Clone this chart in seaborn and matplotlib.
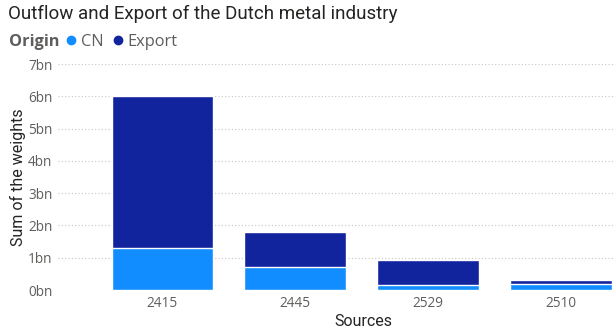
import matplotlib
matplotlib.use("Agg")
import matplotlib.pyplot as plt
from matplotlib.lines import Line2D
import seaborn as sns
import pandas as pd

# Weights per source, in billions
sources = ["2415", "2445", "2529", "2510"]
cn_weights = [1.31, 0.71, 0.16, 0.20]
export_weights = [4.69, 1.10, 0.78, 0.10]
y_ticks = [0, 1, 2, 3, 4, 5, 6, 7]

cn_color = "#118DFF"
export_color = "#12239E"
tick_color = "#605E5C"
text_color = "#252423"
heading_font = ["Roboto", "DejaVu Sans"]

sns.set_theme(style="white")
plt.rcParams["font.family"] = ["Open Sans", "DejaVu Sans"]

df = pd.DataFrame({
    "Sources": sources,
    "CN": cn_weights,
    "Export": export_weights,
})
df["Total"] = df["CN"] + df["Export"]

W, H = 614, 331
fig = plt.figure(figsize=(W / 100, H / 100), dpi=100)
ax = fig.add_axes([58 / W, (H - 290) / H, (614 - 58) / W, (290 - 64) / H])

# Stacked bars: full height in the export colour, CN share drawn over the bottom
sns.barplot(data=df, x="Sources", y="Total", order=sources, color=export_color,
            width=0.765, saturation=1, ax=ax, zorder=2)
sns.barplot(data=df, x="Sources", y="CN", order=sources, color=cn_color,
            width=0.765, saturation=1, ax=ax, zorder=3)

ax.set_xlim(-0.786, 3.40)
ax.set_ylim(0, 7)
ax.set_yticks(y_ticks)
ax.set_yticklabels([f"{v}bn" for v in y_ticks])
ax.yaxis.grid(True, linestyle=(0, (1, 2)), color="#C8C6C4", linewidth=0.8)
ax.set_axisbelow(True)
for s in ax.spines.values():
    s.set_visible(False)
ax.tick_params(axis="both", length=0, labelsize=9.8, labelcolor=tick_color)
ax.tick_params(axis="y", pad=4)
ax.tick_params(axis="x", pad=4)
ax.set_xlabel("")
ax.set_ylabel("")

fig.text(363 / W, 1 - 321 / H, "Sources", ha="center", va="center",
         fontsize=11.5, color=text_color, family=heading_font)
fig.text(18 / W, 1 - 177 / H, "Sum of the weights", ha="center", va="center",
         rotation=90, fontsize=11.5, color=text_color, family=heading_font)

fig.text(8 / W, 1 - 14 / H, "Outflow and Export of the Dutch metal industry",
         ha="left", va="center", fontsize=13.5, color=text_color,
         family=heading_font)

fig.text(9 / W, 1 - 42 / H, "Origin", ha="left", va="center", fontsize=11.8,
         fontweight="bold", color=tick_color)
handles = [
    Line2D([], [], marker="o", linestyle="", markersize=6, color=cn_color),
    Line2D([], [], marker="o", linestyle="", markersize=6, color=export_color),
]
fig.legend(handles, ["CN", "Export"], loc="center left",
           bbox_to_anchor=(63 / W, 1 - 42 / H), ncol=2, frameon=False,
           handletextpad=0.1, columnspacing=0.35, handlelength=1.0,
           borderaxespad=0, borderpad=0, labelcolor=tick_color, fontsize=11.8)

fig.savefig("out.png", dpi=100)
